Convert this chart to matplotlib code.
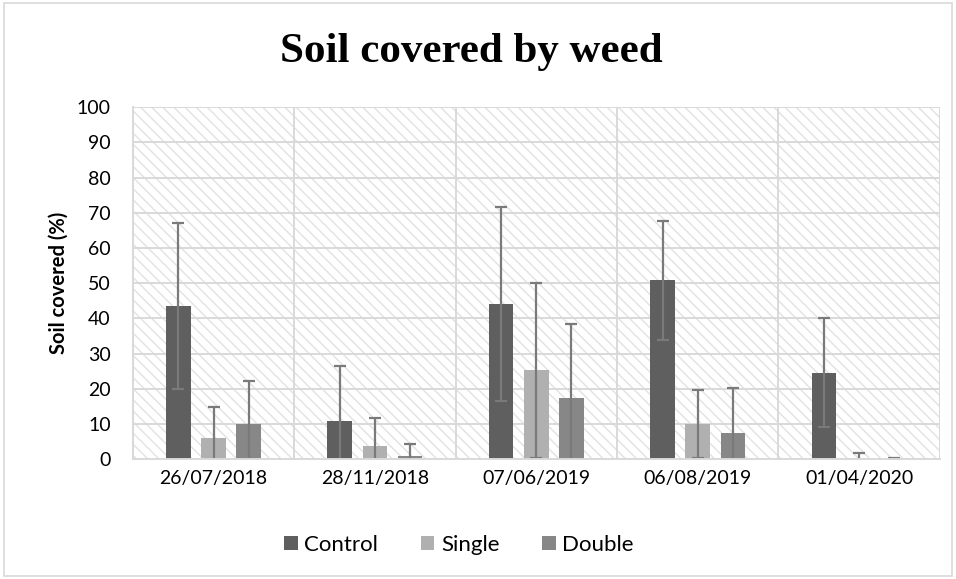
import numpy as np
import matplotlib.pyplot as plt
from matplotlib.patches import Rectangle

dates = ["26/07/2018", "28/11/2018", "07/06/2019", "06/08/2019", "01/04/2020"]
control = [43.6, 10.7, 44.0, 50.8, 24.5]
control_err = [23.6, 15.7, 27.6, 16.9, 15.5]
single = [6.0, 3.8, 25.2, 10.0, 0.3]
single_err = [8.9, 7.9, 24.8, 9.6, 1.5]
double = [10.0, 1.0, 17.5, 7.3, 0.1]
double_err = [12.2, 3.3, 21.0, 13.0, 0.1]

plt.rcParams['font.family'] = ['Lato', 'DejaVu Sans']
plt.rcParams['hatch.linewidth'] = 1.0

fig = plt.figure(figsize=(9.56, 5.79), dpi=100)
ax = fig.add_axes([0.139, 0.207, 0.844, 0.608])

# chart border
fig.patches.append(Rectangle((0.004, 0.005), 0.992, 0.99, transform=fig.transFigure,
                             fill=False, edgecolor='#d9d9d9', linewidth=1.2))

# hatched plot background
ax.add_patch(Rectangle((0, 0), 1, 1, transform=ax.transAxes, facecolor='white',
                       edgecolor='#e2e2e2', hatch='\\\\\\', linewidth=0, zorder=0))

x = np.arange(len(dates))
w = 0.152
step = 0.218
err_kw = dict(ecolor='#7a7a7a', elinewidth=1.6, capsize=4.3, capthick=1.6)
ax.bar(x - step, control, w, yerr=control_err, color='#5f5f5f', label='Control',
       error_kw=err_kw, zorder=3)
ax.bar(x, single, w, yerr=single_err, color='#b0b0b0', label='Single',
       error_kw=err_kw, zorder=3)
ax.bar(x + step, double, w, yerr=double_err, color='#878787', label='Double',
       error_kw=err_kw, zorder=3)

ax.set_xlim(-0.5, len(dates) - 0.5)
ax.set_ylim(0, 100)
ax.set_yticks(range(0, 101, 10))
ax.set_xticks(x)
ax.set_xticklabels(dates)
ax.tick_params(axis='both', length=0, labelsize=14, pad=8)
ax.tick_params(axis='y', pad=16)

for v in range(10, 101, 10):
    ax.axhline(v, color='#d9d9d9', linewidth=1.4, zorder=1)
for b in np.arange(-0.5, len(dates), 1.0):
    ax.axvline(b, color='#d9d9d9', linewidth=1.4, zorder=1)

for s in ['top', 'right']:
    ax.spines[s].set_visible(False)
ax.spines['left'].set_color('#d9d9d9')
ax.spines['left'].set_linewidth(1.4)
ax.spines['bottom'].set_color('#d9d9d9')
ax.spines['bottom'].set_linewidth(1.4)
ax.spines['bottom'].set_zorder(4)

ax.set_ylabel("Soil covered (%)", fontsize=14.5, fontweight='bold', labelpad=6)
fig.text(0.493, 0.91, "Soil covered by weed", ha='center', va='center',
         fontsize=31, fontweight='bold', family='Liberation Serif')

fig.legend(loc='center', bbox_to_anchor=(0.48, 0.059), ncol=3, frameon=False,
           fontsize=16, handlelength=0.62, handleheight=0.62, handletextpad=0.3,
           columnspacing=1.9)

fig.savefig("out.png", dpi=100)
